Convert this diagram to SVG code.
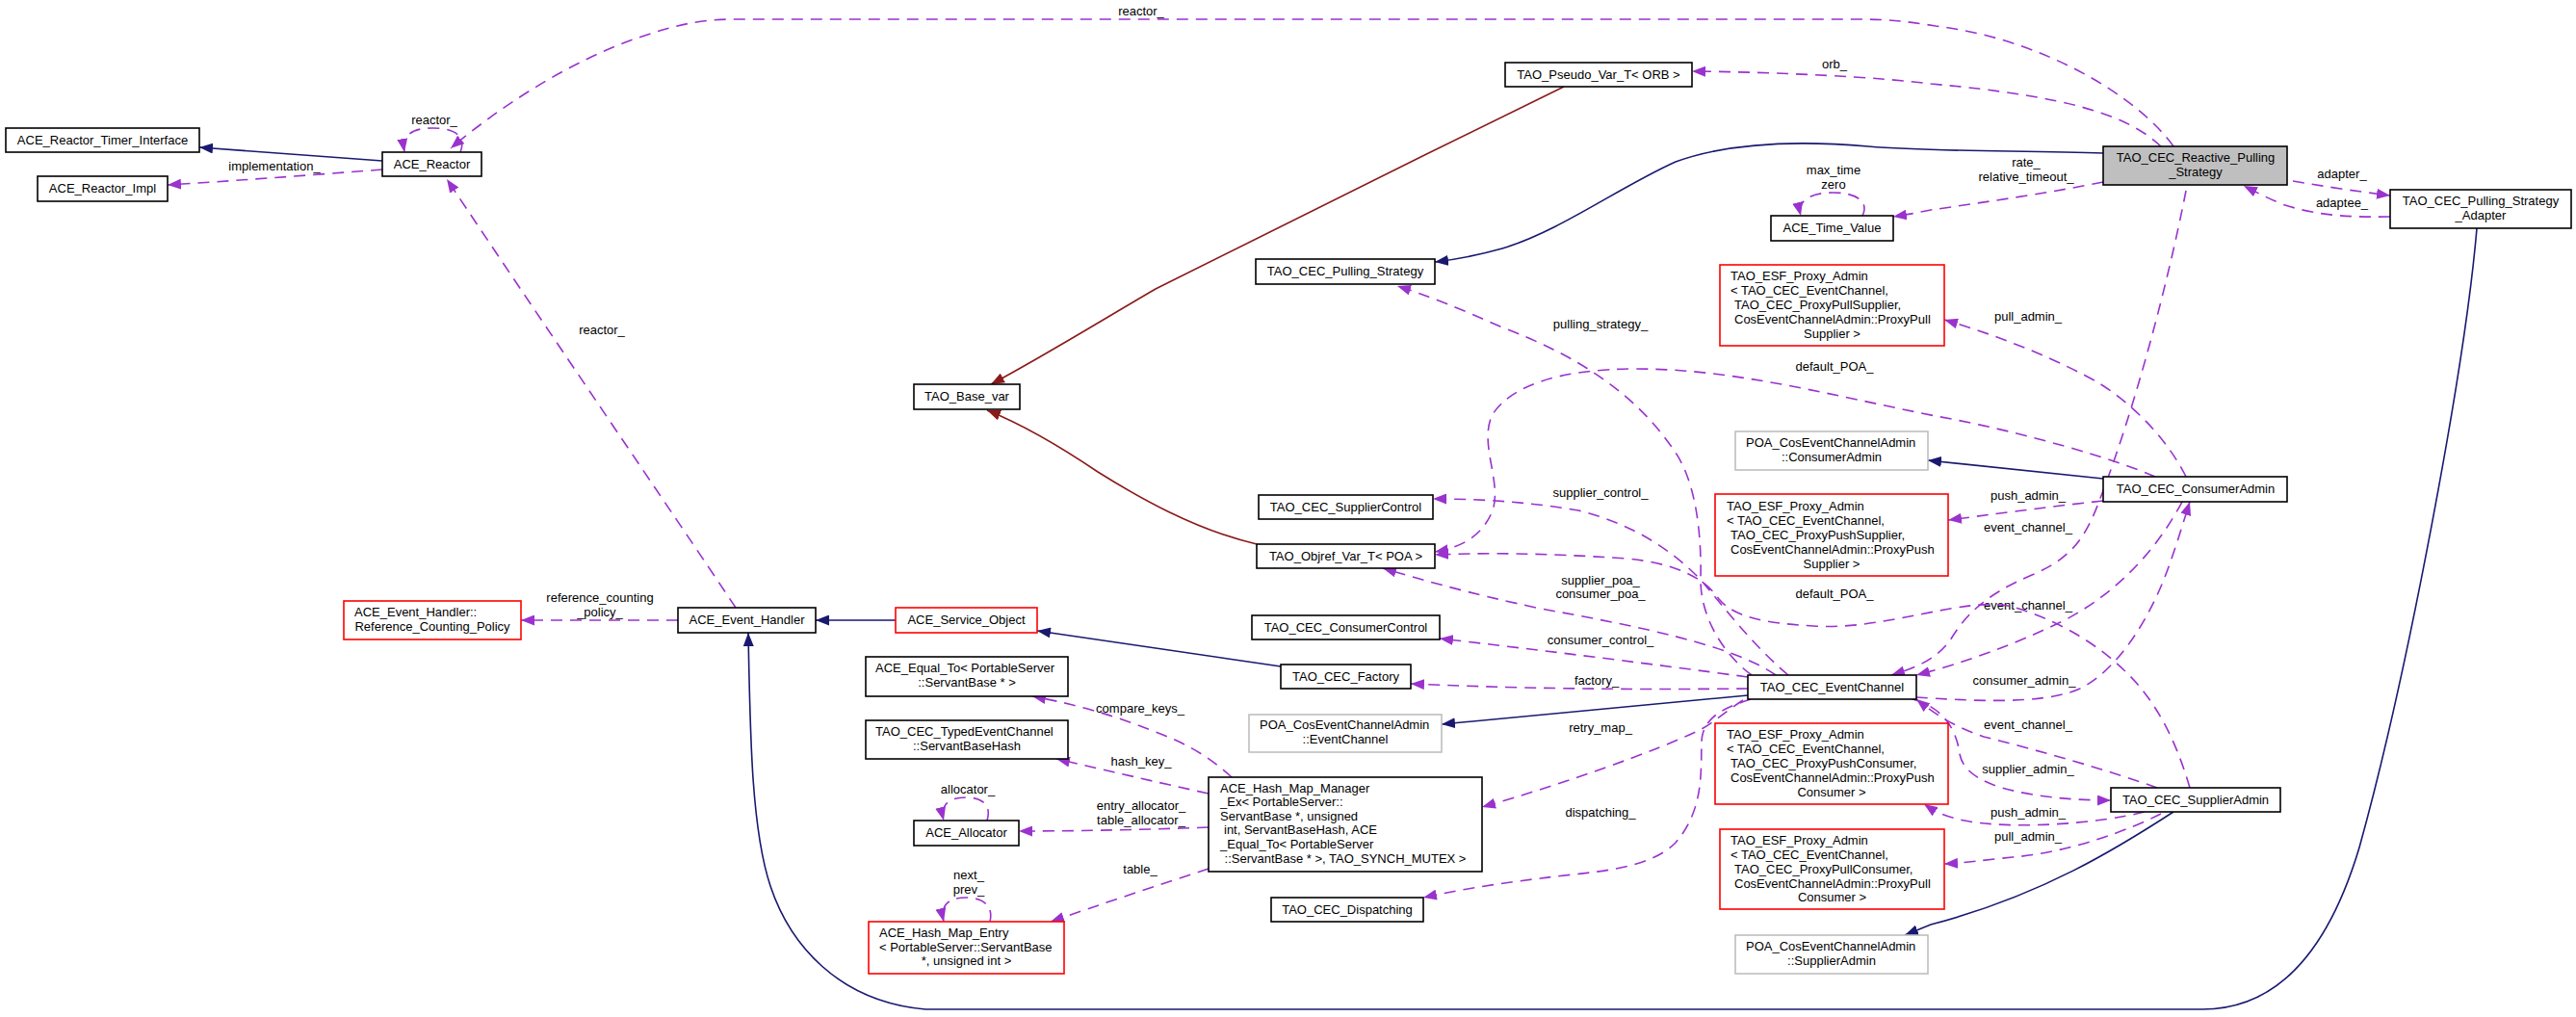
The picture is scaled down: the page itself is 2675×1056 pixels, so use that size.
<svg xmlns="http://www.w3.org/2000/svg" width="2675" height="1056" viewBox="0 0 2675 1056">
<style>
text{font-family:"Liberation Sans",Arial,sans-serif;font-size:13px;fill:#000}
.c{text-anchor:middle}
.n{fill:#fff;stroke:#000;stroke-width:1.6}
.r{fill:#fff;stroke:#ff0000;stroke-width:1.6}
.g{fill:#fff;stroke:#bfbfbf;stroke-width:1.6}
.d{fill:none;stroke:#9a32cd;stroke-width:1.6;stroke-dasharray:12,8;marker-end:url(#ap)}
.b{fill:none;stroke:#191970;stroke-width:1.6;marker-end:url(#ab)}
.f{fill:none;stroke:#8b1a1a;stroke-width:1.6;marker-end:url(#ar)}
</style>
<defs>
<marker id="ap" markerWidth="15" markerHeight="11" refX="14" refY="5.5" orient="auto" markerUnits="userSpaceOnUse"><path d="M0,0 L14,5.5 L0,11 z" fill="#9a32cd"/></marker>
<marker id="ab" markerWidth="15" markerHeight="11" refX="14" refY="5.5" orient="auto" markerUnits="userSpaceOnUse"><path d="M0,0 L14,5.5 L0,11 z" fill="#191970"/></marker>
<marker id="ar" markerWidth="15" markerHeight="11" refX="14" refY="5.5" orient="auto" markerUnits="userSpaceOnUse"><path d="M0,0 L14,5.5 L0,11 z" fill="#8b1a1a"/></marker>
</defs>
<rect width="2675" height="1056" fill="#fff"/>
<g id="edges">
<path class="d" d="M2257,152 C2220,100 2120,40 2010,27 C1980,22 1960,20 1930,20 L760,20 C720,20 690,30 660,40 C590,65 520,110 468,154"/>
<text class="c" x="1185" y="16">reactor_</text>
<path class="d" d="M478,158 C485,140 470,133 449,133 C428,133 417,140 420,158"/>
<text class="c" x="451" y="129">reactor_</text>
<path class="d" d="M397,176 C320,182 240,188 174,192"/>
<text class="c" x="285" y="177">implementation_</text>
<path class="b" d="M397,167 L207,153"/>
<path class="d" d="M2244,152 C2210,120 2150,100 2005,87 C1950,80 1850,75 1757,74"/>
<text class="c" x="1905" y="71">orb_</text>
<path class="b" d="M2184,159 C2100,156 2010,158 1940,152 C1860,145 1790,150 1740,168 C1680,195 1620,240 1560,258 C1535,265 1515,269 1490,272"/>
<path class="d" d="M2184,189 C2130,200 2060,210 2005,218 C1990,221 1980,223 1966,225"/>
<text class="c" x="2104" y="173">rate_</text>
<text class="c" x="2104" y="188">relative_timeout_</text>
<path class="d" d="M1934,224 C1942,208 1925,200 1904,200 C1880,200 1866,208 1870,224"/>
<text class="c" x="1904" y="181">max_time</text>
<text class="c" x="1904" y="196">zero</text>
<path class="d" d="M2381,188 C2410,193 2450,199 2482,203"/>
<text class="c" x="2432" y="185">adapter_</text>
<path class="d" d="M2482,225 C2430,226 2400,222 2370,212 C2355,206 2342,199 2330,193"/>
<text class="c" x="2432" y="215">adaptee_</text>
<path class="f" d="M1624,90 C1480,160 1300,250 1200,300 C1140,335 1080,372 1029,399"/>
<path class="f" d="M1305,565 C1240,550 1180,515 1140,490 C1100,463 1060,440 1025,426"/>
<path class="d" d="M1819,701 C1790,680 1765,640 1766,600 C1767,550 1760,500 1740,470 C1700,410 1640,370 1560,340 C1520,322 1480,306 1451,297"/>
<text class="c" x="1662" y="341">pulling_strategy_</text>
<path class="d" d="M2270,495 C2250,455 2215,420 2180,398 C2140,375 2080,350 2019,332"/>
<text class="c" x="2106" y="333">pull_admin_</text>
<path class="d" d="M2270,198 C2250,300 2215,430 2180,520 C2165,560 2150,580 2110,597 C2060,618 2040,640 2025,665 C2010,685 1990,693 1964,701"/>
<text class="c" x="2106" y="552">event_channel_</text>
<path class="d" d="M2238,495 C2200,478 2100,448 2010,432 C1900,410 1800,383 1700,383 C1620,383 1570,400 1550,430 C1535,460 1560,500 1550,530 C1540,555 1520,568 1490,573"/>
<text class="c" x="1905" y="385">default_POA_</text>
<path class="b" d="M2184,497 L2002,478"/>
<path class="d" d="M2184,520 C2120,527 2070,534 2023,540"/>
<text class="c" x="2106" y="519">push_admin_</text>
<path class="d" d="M2266,521 C2240,570 2200,615 2142,645 C2090,670 2040,688 1990,701"/>
<text class="c" x="2106" y="633">event_channel_</text>
<path class="d" d="M1990,724 C2040,727 2120,733 2160,715 C2200,695 2235,640 2255,580 C2262,560 2268,540 2274,521"/>
<text class="c" x="2102" y="711">consumer_admin_</text>
<path class="d" d="M1857,701 C1820,670 1790,630 1767,603 C1740,575 1700,545 1639,530 C1580,520 1530,518 1488,518"/>
<text class="c" x="1662" y="516">supplier_control_</text>
<path class="d" d="M1844,701 C1800,670 1700,650 1600,632 C1520,615 1470,600 1436,590"/>
<text class="c" x="1662" y="607">supplier_poa_</text>
<text class="c" x="1662" y="621">consumer_poa_</text>
<path class="d" d="M2274,818 C2260,770 2240,730 2210,700 C2180,670 2140,645 2090,630 C2040,618 1960,655 1883,650 C1830,647 1800,640 1785,622 C1770,600 1740,585 1690,580 C1600,574 1540,574 1490,576"/>
<text class="c" x="1905" y="621">default_POA_</text>
<path class="d" d="M1815,703 C1720,690 1600,675 1495,663"/>
<text class="c" x="1662" y="669">consumer_control_</text>
<path class="d" d="M1815,715 C1720,716 1600,716 1465,710"/>
<text class="c" x="1658" y="711">factory_</text>
<path class="b" d="M1815,722 L1497,752"/>
<path class="d" d="M1810,727 C1790,740 1780,750 1767,757 C1720,780 1620,815 1539,838"/>
<text class="c" x="1662" y="760">retry_map_</text>
<path class="d" d="M1818,726 C1790,735 1768,745 1767,770 C1766,800 1770,840 1740,875 C1710,905 1650,905 1600,912 C1550,918 1510,925 1478,932"/>
<text class="c" x="1662" y="848">dispatching_</text>
<path class="d" d="M2240,818 C2190,800 2120,780 2060,765 C2030,755 2010,742 1990,726"/>
<text class="c" x="2106" y="757">event_channel_</text>
<path class="d" d="M1986,726 C2020,735 2032,760 2035,783 C2040,810 2080,822 2133,828 C2150,830 2170,831 2192,831"/>
<text class="c" x="2106" y="803">supplier_admin_</text>
<path class="d" d="M2227,843 C2180,855 2090,862 2040,852 C2020,848 2010,843 1998,835"/>
<text class="c" x="2106" y="848">push_admin_</text>
<path class="d" d="M2244,845 C2210,862 2150,885 2090,890 C2060,893 2040,896 2019,897"/>
<text class="c" x="2106" y="873">pull_admin_</text>
<path class="b" d="M2257,843 C2200,880 2120,930 2005,960 C1995,964 1988,967 1978,971"/>
<path class="b" d="M2572,237 C2560,380 2500,700 2450,880 C2420,980 2370,1048 2287,1048 L961,1048 C870,1040 820,980 800,920 C780,860 779,760 777,657"/>
<path class="b" d="M930,644 L847,644"/>
<path class="b" d="M1330,692 L1077,655"/>
<path class="d" d="M704,644 L541,644"/>
<text class="c" x="623" y="625">reference_counting</text>
<text class="c" x="623" y="640">_policy_</text>
<path class="d" d="M764,631 C700,535 560,330 464,186"/>
<text class="c" x="625" y="347">reactor_</text>
<path class="d" d="M1279,807 C1260,790 1240,775 1200,760 C1150,740 1110,730 1072,723"/>
<text class="c" x="1184" y="740">compare_keys_</text>
<path class="d" d="M1255,824 C1200,812 1150,800 1097,788"/>
<text class="c" x="1185" y="795">hash_key_</text>
<path class="d" d="M1255,859 C1180,862 1100,863 1058,863"/>
<text class="c" x="1185" y="841">entry_allocator_</text>
<text class="c" x="1185" y="856">table_allocator_</text>
<path class="d" d="M1025,852 C1030,836 1020,828 1003,828 C985,828 976,836 980,852"/>
<text class="c" x="1005" y="824">allocator_</text>
<path class="d" d="M1255,902 C1200,920 1140,940 1091,957"/>
<text class="c" x="1184" y="907">table_</text>
<path class="d" d="M1028,957 C1032,940 1020,932 1003,932 C985,932 976,940 980,957"/>
<text class="c" x="1006" y="913">next_</text>
<text class="c" x="1006" y="928">prev_</text>
</g>
<g id="ACE_Reactor_Timer_Interface"><rect class="n" x="6" y="133" width="201" height="25"/><text class="c" x="106.5" y="150">ACE_Reactor_Timer_Interface</text></g>
<g id="ACE_Reactor_Impl"><rect class="n" x="39" y="183" width="135" height="26"/><text class="c" x="106.5" y="200">ACE_Reactor_Impl</text></g>
<g id="ACE_Reactor"><rect class="n" x="397" y="158" width="103" height="25"/><text class="c" x="448.5" y="175">ACE_Reactor</text></g>
<g id="TAO_Pseudo_Var_T_ORB"><rect class="n" x="1563" y="65" width="194" height="25"/><text class="c" x="1660" y="82">TAO_Pseudo_Var_T&lt; ORB &gt;</text></g>
<g id="TAO_CEC_Reactive_Pulling_Strategy"><rect x="2184" y="152" width="191" height="40" fill="#bfbfbf" stroke="#000" stroke-width="1.6"/><text class="c" x="2280" y="168">TAO_CEC_Reactive_Pulling</text><text class="c" x="2280" y="183">_Strategy</text></g>
<g id="TAO_CEC_Pulling_Strategy_Adapter"><rect class="n" x="2482" y="197" width="188" height="40"/><text class="c" x="2576" y="213">TAO_CEC_Pulling_Strategy</text><text class="c" x="2576" y="228">_Adapter</text></g>
<g id="ACE_Time_Value"><rect class="n" x="1839" y="224" width="127" height="26"/><text class="c" x="1902.5" y="241">ACE_Time_Value</text></g>
<g id="TAO_CEC_Pulling_Strategy"><rect class="n" x="1304" y="269" width="186" height="26"/><text class="c" x="1397" y="286">TAO_CEC_Pulling_Strategy</text></g>
<g id="TAO_ESF_Proxy_Admin_PullSupplier"><rect class="r" x="1786" y="275" width="233" height="84"/><text x="1797" y="291">TAO_ESF_Proxy_Admin</text><text x="1797" y="306">&lt; TAO_CEC_EventChannel,</text><text x="1801" y="321">TAO_CEC_ProxyPullSupplier,</text><text x="1801" y="336">CosEventChannelAdmin::ProxyPull</text><text class="c" x="1902.5" y="351">Supplier &gt;</text></g>
<g id="TAO_Base_var"><rect class="n" x="949" y="399" width="110" height="26"/><text class="c" x="1004" y="416">TAO_Base_var</text></g>
<g id="POA_CosEventChannelAdmin_ConsumerAdmin"><rect class="g" x="1802" y="448" width="200" height="40"/><text x="1813" y="464">POA_CosEventChannelAdmin</text><text class="c" x="1902" y="479">::ConsumerAdmin</text></g>
<g id="TAO_CEC_ConsumerAdmin"><rect class="n" x="2184" y="495" width="191" height="26"/><text class="c" x="2280" y="512">TAO_CEC_ConsumerAdmin</text></g>
<g id="TAO_CEC_SupplierControl"><rect class="n" x="1307" y="514" width="181" height="25"/><text class="c" x="1397.5" y="531">TAO_CEC_SupplierControl</text></g>
<g id="TAO_ESF_Proxy_Admin_PushSupplier"><rect class="r" x="1781" y="513" width="242" height="85"/><text x="1793" y="530">TAO_ESF_Proxy_Admin</text><text x="1793" y="545">&lt; TAO_CEC_EventChannel,</text><text x="1797" y="560">TAO_CEC_ProxyPushSupplier,</text><text x="1797" y="575">CosEventChannelAdmin::ProxyPush</text><text class="c" x="1902" y="590">Supplier &gt;</text></g>
<g id="TAO_Objref_Var_T_POA"><rect class="n" x="1305" y="565" width="185" height="25"/><text class="c" x="1397.5" y="582">TAO_Objref_Var_T&lt; POA &gt;</text></g>
<g id="ACE_Event_Handler_Reference_Counting_Policy"><rect class="r" x="357" y="624" width="184" height="40"/><text x="368" y="640">ACE_Event_Handler::</text><text class="c" x="449" y="655">Reference_Counting_Policy</text></g>
<g id="ACE_Event_Handler"><rect class="n" x="704" y="631" width="143" height="26"/><text class="c" x="775.5" y="648">ACE_Event_Handler</text></g>
<g id="ACE_Service_Object"><rect class="r" x="930" y="631" width="147" height="26"/><text class="c" x="1003.5" y="648">ACE_Service_Object</text></g>
<g id="TAO_CEC_ConsumerControl"><rect class="n" x="1300" y="639" width="195" height="25"/><text class="c" x="1397.5" y="656">TAO_CEC_ConsumerControl</text></g>
<g id="ACE_Equal_To"><rect class="n" x="899" y="682" width="210" height="41"/><text x="909" y="698">ACE_Equal_To&lt; PortableServer</text><text class="c" x="1004" y="713">::ServantBase * &gt;</text></g>
<g id="TAO_CEC_Factory"><rect class="n" x="1330" y="690" width="135" height="25"/><text class="c" x="1397.5" y="707">TAO_CEC_Factory</text></g>
<g id="TAO_CEC_EventChannel"><rect class="n" x="1815" y="701" width="175" height="25"/><text class="c" x="1902.5" y="718">TAO_CEC_EventChannel</text></g>
<g id="POA_CosEventChannelAdmin_EventChannel"><rect class="g" x="1297" y="742" width="200" height="39"/><text x="1308" y="757">POA_CosEventChannelAdmin</text><text class="c" x="1397" y="772">::EventChannel</text></g>
<g id="TAO_CEC_TypedEventChannel_ServantBaseHash"><rect class="n" x="899" y="748" width="210" height="40"/><text x="909" y="764">TAO_CEC_TypedEventChannel</text><text class="c" x="1004" y="779">::ServantBaseHash</text></g>
<g id="TAO_ESF_Proxy_Admin_PushConsumer"><rect class="r" x="1781" y="751" width="242" height="84"/><text x="1793" y="767">TAO_ESF_Proxy_Admin</text><text x="1793" y="782">&lt; TAO_CEC_EventChannel,</text><text x="1797" y="797">TAO_CEC_ProxyPushConsumer,</text><text x="1797" y="812">CosEventChannelAdmin::ProxyPush</text><text class="c" x="1902" y="827">Consumer &gt;</text></g>
<g id="ACE_Hash_Map_Manager_Ex"><rect class="n" x="1255" y="807" width="284" height="98"/><text x="1267" y="823">ACE_Hash_Map_Manager</text><text x="1267" y="837">_Ex&lt; PortableServer::</text><text x="1267" y="852">ServantBase *, unsigned</text><text x="1271" y="866">int, ServantBaseHash, ACE</text><text x="1267" y="881">_Equal_To&lt; PortableServer</text><text class="c" x="1397" y="896">::ServantBase * &gt;, TAO_SYNCH_MUTEX &gt;</text></g>
<g id="TAO_CEC_SupplierAdmin"><rect class="n" x="2192" y="818" width="176" height="25"/><text class="c" x="2280" y="835">TAO_CEC_SupplierAdmin</text></g>
<g id="ACE_Allocator"><rect class="n" x="949" y="852" width="109" height="26"/><text class="c" x="1003.5" y="869">ACE_Allocator</text></g>
<g id="TAO_ESF_Proxy_Admin_PullConsumer"><rect class="r" x="1786" y="861" width="233" height="83"/><text x="1797" y="877">TAO_ESF_Proxy_Admin</text><text x="1797" y="892">&lt; TAO_CEC_EventChannel,</text><text x="1801" y="907">TAO_CEC_ProxyPullConsumer,</text><text x="1801" y="922">CosEventChannelAdmin::ProxyPull</text><text class="c" x="1902.5" y="936">Consumer &gt;</text></g>
<g id="TAO_CEC_Dispatching"><rect class="n" x="1320" y="932" width="158" height="25"/><text class="c" x="1399" y="949">TAO_CEC_Dispatching</text></g>
<g id="ACE_Hash_Map_Entry"><rect class="r" x="902" y="957" width="203" height="54"/><text x="913" y="973">ACE_Hash_Map_Entry</text><text x="913" y="988">&lt; PortableServer::ServantBase</text><text class="c" x="1003.5" y="1002">*, unsigned int &gt;</text></g>
<g id="POA_CosEventChannelAdmin_SupplierAdmin"><rect class="g" x="1802" y="971" width="200" height="40"/><text x="1813" y="987">POA_CosEventChannelAdmin</text><text class="c" x="1902" y="1002">::SupplierAdmin</text></g>
</svg>
